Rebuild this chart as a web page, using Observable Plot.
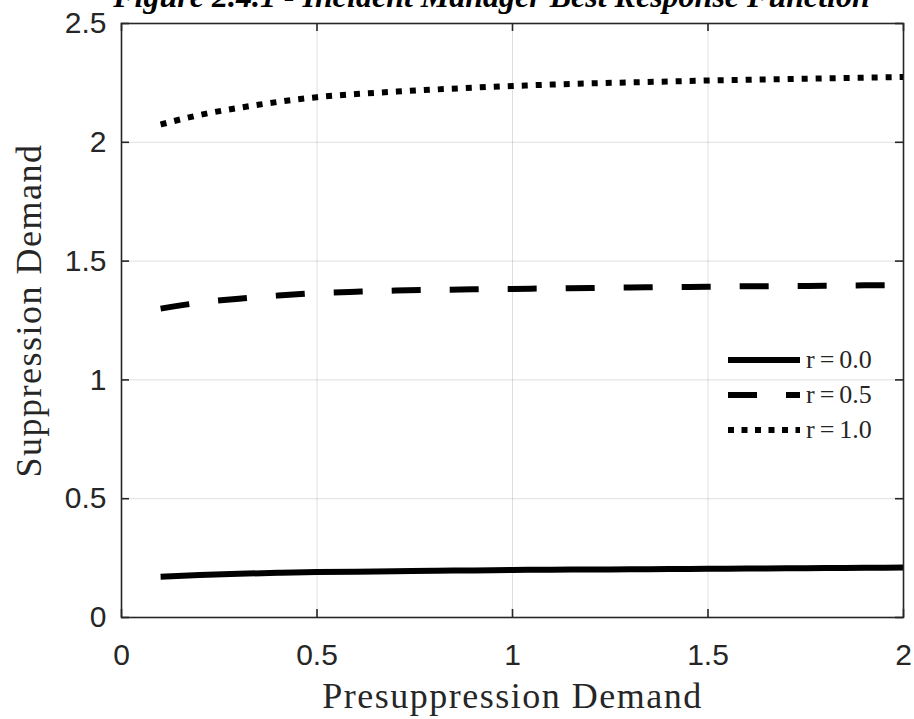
<!DOCTYPE html>
<html>
<head>
<meta charset="utf-8">
<script src="https://cdn.jsdelivr.net/npm/d3@7"></script>
<script src="https://cdn.jsdelivr.net/npm/@observablehq/plot@0.6"></script>
<style>
  html, body { margin: 0; padding: 0; background: white; }
  #wrap { position: relative; width: 914px; height: 719px; overflow: hidden; }
  #legend { position: absolute; left: 728px; top: 340px; }
</style>
</head>
<body>
<div id="wrap"></div>
<script>
// ---- data ----
const xs = [0.1,0.2,0.3,0.4,0.5,0.6,0.7,0.8,0.9,1.0,1.1,1.2,1.3,1.4,1.5,1.6,1.7,1.8,1.9,2.0];
const r00 = [0.172,0.179,0.184,0.188,0.191,0.193,0.195,0.197,0.198,0.200,0.201,0.202,0.203,0.204,0.205,0.206,0.207,0.208,0.209,0.210];
const r05 = [1.300,1.325,1.342,1.355,1.365,1.371,1.376,1.379,1.381,1.383,1.385,1.387,1.389,1.391,1.392,1.394,1.395,1.396,1.398,1.399];
const r10 = [2.075,2.115,2.145,2.170,2.190,2.203,2.213,2.222,2.230,2.237,2.243,2.248,2.252,2.256,2.260,2.263,2.266,2.269,2.272,2.275];
const seriesNames = ["r=0.0","r=0.5","r=1.0"];
const xTicks = [0,0.5,1,1.5,2];
const xTickLabels = ["0","0.5","1","1.5","2"];
const yTicks = [0,0.5,1,1.5,2,2.5];
const yTickLabels = ["0","0.5","1","1.5","2","2.5"];
const titleText = "Figure 2.4.1 - Incident Manager Best Response Function";
const xLabel = "Presuppression Demand";
const yLabel = "Suppression Demand";

// ---- layout ----
const W = 914, H = 719, mt = 23, mr = 11, mb = 102, ml = 121;
const innerW = W - ml - mr, innerH = H - mt - mb;
const tickLen = 8;
const axisColor = "#262626";
const curveDash = [null, "29,29", "6,8"];
const legendDash = [null, "29,29", "6,7.5"];

const rows = [];
[r00, r05, r10].forEach((arr, s) => arr.forEach((v, i) => rows.push({series: seriesNames[s], x: xs[i], y: v})));

const lineMarks = seriesNames.map((name, s) =>
  Plot.line(rows.filter(d => d.series === name), {
    x: "x", y: "y", stroke: "black", strokeWidth: 6,
    strokeLinecap: "butt", strokeLinejoin: "round",
    strokeDasharray: curveDash[s], curve: "monotone-x"
  })
);

const serif = "'Liberation Serif', 'Times New Roman', serif";

const chart = Plot.plot({
  width: W, height: H,
  marginTop: mt, marginRight: mr, marginBottom: mb, marginLeft: ml,
  x: {domain: [0, 2]},
  y: {domain: [0, 2.5]},
  style: {fontFamily: "'Liberation Sans', Arial, sans-serif", fontSize: "30px", color: axisColor, background: "white", overflow: "hidden"},
  marks: [
    Plot.gridX(xTicks, {stroke: "#000", strokeOpacity: 0.13, strokeWidth: 1}),
    Plot.gridY(yTicks, {stroke: "#000", strokeOpacity: 0.13, strokeWidth: 1}),
    ...lineMarks,
    Plot.frame({stroke: axisColor, strokeWidth: 1.6}),
    Plot.ruleX(xTicks, {x: d => d, insetTop: innerH - tickLen, stroke: axisColor, strokeWidth: 1.6}),
    Plot.ruleX(xTicks, {x: d => d, insetBottom: innerH - tickLen, stroke: axisColor, strokeWidth: 1.6}),
    Plot.ruleY(yTicks, {y: d => d, insetRight: innerW - tickLen, stroke: axisColor, strokeWidth: 1.6}),
    Plot.ruleY(yTicks, {y: d => d, insetLeft: innerW - tickLen, stroke: axisColor, strokeWidth: 1.6}),
    Plot.axisX(xTicks, {tickSize: 0, tickPadding: 26, label: null, tickFormat: (d, i) => xTickLabels[i], fontSize: 30, fill: axisColor}),
    Plot.axisY(yTicks, {tickSize: 0, tickPadding: 15, label: null, tickFormat: (d, i) => yTickLabels[i], fontSize: 30, fill: axisColor}),
    Plot.text([xLabel], {frameAnchor: "bottom", lineAnchor: "bottom", textAnchor: "middle", dy: 90, text: d => d,
      fontFamily: serif, fontSize: 36, fill: "#262626"}),
    Plot.text([yLabel], {frameAnchor: "left", lineAnchor: "bottom", textAnchor: "middle", rotate: -90, dx: -(ml - 40), dy: -10, text: d => d,
      fontFamily: serif, fontSize: 36, fill: "#262626"}),
    Plot.text([titleText], {frameAnchor: "top", lineAnchor: "bottom", textAnchor: "middle", dy: -(mt - 6), dx: -21, text: d => d,
      fontFamily: serif, fontSize: 32, fontWeight: "bold", fontStyle: "italic", fill: "black"})
  ]
});
chart.querySelectorAll("text").forEach(t => {
  if (t.textContent === xLabel || t.textContent === yLabel) t.style.letterSpacing = "1.5px";
});
document.getElementById("wrap").appendChild(chart);

// ---- legend (overlay) ----
const ns = "http://www.w3.org/2000/svg";
const leg = document.createElementNS(ns, "svg");
leg.setAttribute("id", "legend");
leg.setAttribute("width", 184);
leg.setAttribute("height", 110);
seriesNames.forEach((name, i) => {
  const cy = 20 + i * 35;
  const ln = document.createElementNS(ns, "line");
  ln.setAttribute("x1", 0); ln.setAttribute("x2", 72);
  ln.setAttribute("y1", cy); ln.setAttribute("y2", cy);
  ln.setAttribute("stroke", "black"); ln.setAttribute("stroke-width", 6);
  if (legendDash[i]) ln.setAttribute("stroke-dasharray", legendDash[i]);
  leg.appendChild(ln);
  const tx = document.createElementNS(ns, "text");
  tx.setAttribute("x", 78); tx.setAttribute("y", cy + 8);
  tx.setAttribute("font-family", serif);
  tx.setAttribute("font-size", 26);
  tx.setAttribute("fill", "#262626");
  // split "r=0.0" into parts so the "=" gets math-style spacing
  const m = name.match(/^(.*?)(=)(.*)$/);
  const parts = m ? [m[1], m[2], m[3]] : [name];
  parts.forEach((p, k) => {
    const ts = document.createElementNS(ns, "tspan");
    if (k > 0) ts.setAttribute("dx", 5);
    ts.textContent = p;
    tx.appendChild(ts);
  });
  leg.appendChild(tx);
});
document.getElementById("wrap").appendChild(leg);
</script>
</body>
</html>
